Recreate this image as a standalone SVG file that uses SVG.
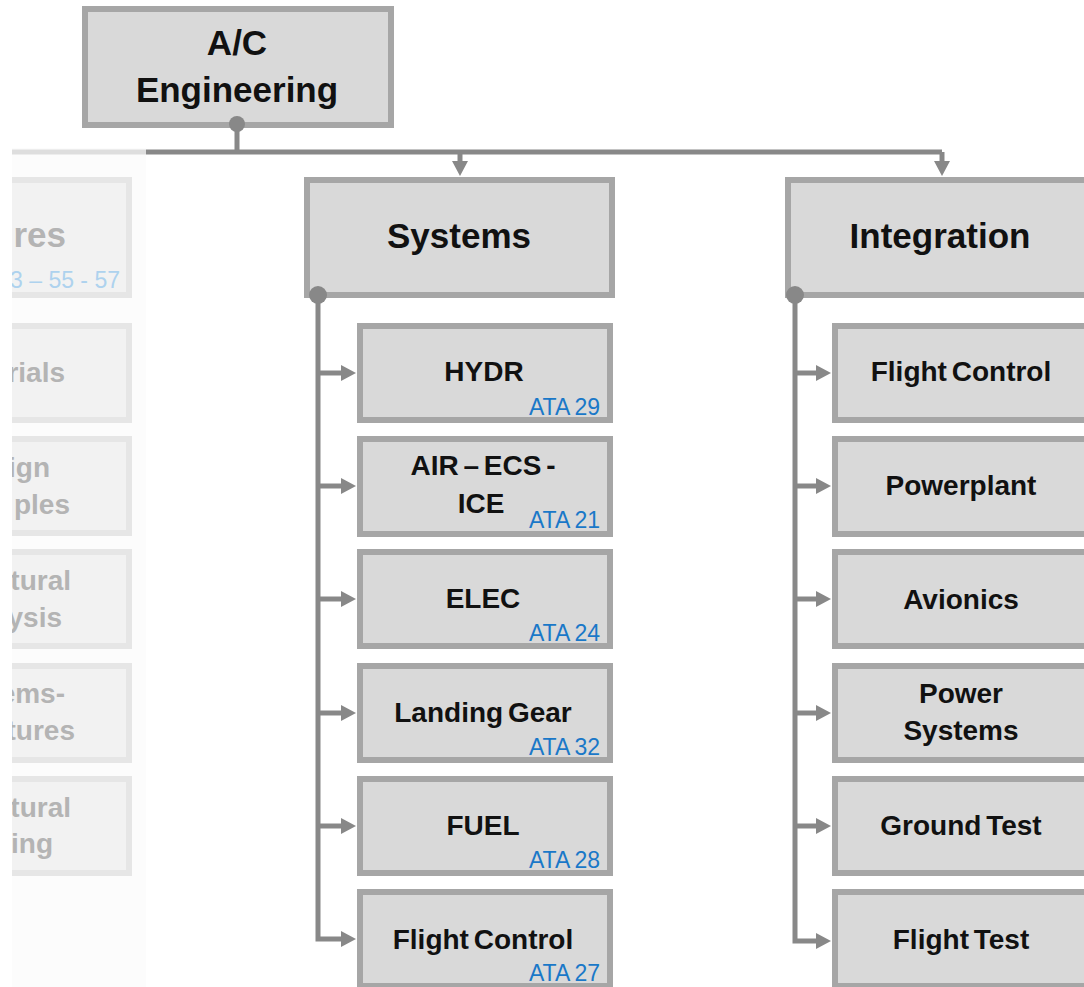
<svg xmlns="http://www.w3.org/2000/svg" width="1084" height="987" viewBox="0 0 1084 987">
  <defs>
    <style>
      .box { fill: #d9d9d9; stroke: #a6a6a6; stroke-width: 6; }
      .fbox { fill: #f2f2f2; stroke: #e6e6e6; stroke-width: 6; }
      .lbl { font-family: "Liberation Sans", Arial, sans-serif; font-weight: bold; fill: #111111; text-anchor: middle; }
      .title { font-size: 35px; }
      .item { font-size: 28px; word-spacing: -3px; }
      .ata { font-family: "Liberation Sans", Arial, sans-serif; font-size: 23px; fill: #1a78c8; text-anchor: end; word-spacing: -1px; }
      .flbl { font-family: "Liberation Sans", Arial, sans-serif; font-weight: bold; font-size: 28px; fill: #b4b4b4; text-anchor: end; }
      .fata { font-family: "Liberation Sans", Arial, sans-serif; font-size: 23px; fill: #aed2ee; text-anchor: end; }
      .wire { fill: none; stroke: #888888; stroke-width: 5; }
      .dot { fill: #888888; }
    </style>
    <marker id="arrow" markerUnits="userSpaceOnUse" markerWidth="16" markerHeight="18" refX="1" refY="8" orient="auto">
      <path d="M0,0 L15,8 L0,16 z" fill="#888888"/>
    </marker>
    <clipPath id="leftClip">
      <rect x="12" y="0" width="134" height="987"/>
    </clipPath>
  </defs>

  <rect width="1084" height="987" fill="#ffffff"/>

  <!-- faded Structures column, cut at the left edge -->
  <g id="structures" clip-path="url(#leftClip)">
    <rect x="12" y="148" width="134" height="839" fill="#fcfcfc"/>
    <line x1="12" y1="152" x2="146" y2="152" stroke="#dedede" stroke-width="5"/>
    <rect class="fbox" x="-150" y="180" width="279" height="115"/>
    <text class="flbl" x="66" y="247" style="font-size:35px">res</text>
    <text class="fata" x="120" y="288">3 – 55 - 57</text>

    <rect class="fbox" x="-150" y="326" width="279" height="94"/>
    <text class="flbl" x="65" y="382">rials</text>

    <rect class="fbox" x="-150" y="439" width="279" height="94"/>
    <text class="flbl" x="50" y="477">ign</text>
    <text class="flbl" x="70" y="514">ples</text>

    <rect class="fbox" x="-150" y="552" width="279" height="94"/>
    <text class="flbl" x="71" y="590">tural</text>
    <text class="flbl" x="62" y="627">ysis</text>

    <rect class="fbox" x="-150" y="666" width="279" height="94"/>
    <text class="flbl" x="65" y="703">ems-</text>
    <text class="flbl" x="75" y="740">tures</text>

    <rect class="fbox" x="-150" y="779" width="279" height="94"/>
    <text class="flbl" x="71" y="817">tural</text>
    <text class="flbl" x="53" y="853">ing</text>
  </g>

  <!-- connectors -->
  <g id="connectors">
    <path class="wire" d="M237,124 V152 M146,152 H942"/>
    <path class="wire" d="M460,152 V162" marker-end="url(#arrow)"/>
    <path class="wire" d="M942,152 V162" marker-end="url(#arrow)"/>

    <path class="wire" d="M318,295 V939 H342" marker-end="url(#arrow)"/>
    <path class="wire" d="M318,373 H342" marker-end="url(#arrow)"/>
    <path class="wire" d="M318,486 H342" marker-end="url(#arrow)"/>
    <path class="wire" d="M318,599 H342" marker-end="url(#arrow)"/>
    <path class="wire" d="M318,713 H342" marker-end="url(#arrow)"/>
    <path class="wire" d="M318,826 H342" marker-end="url(#arrow)"/>

    <path class="wire" d="M795,295 V941 H817" marker-end="url(#arrow)"/>
    <path class="wire" d="M795,373 H817" marker-end="url(#arrow)"/>
    <path class="wire" d="M795,486 H817" marker-end="url(#arrow)"/>
    <path class="wire" d="M795,599 H817" marker-end="url(#arrow)"/>
    <path class="wire" d="M795,713 H817" marker-end="url(#arrow)"/>
    <path class="wire" d="M795,826 H817" marker-end="url(#arrow)"/>
  </g>

  <!-- root -->
  <g id="ac-engineering">
    <rect class="box" x="85" y="9" width="306" height="116"/>
    <text class="lbl title" x="237" y="55">A/C</text>
    <text class="lbl title" x="237" y="102">Engineering</text>
    <circle class="dot" cx="237" cy="124" r="8"/>
  </g>

  <!-- Systems branch -->
  <g id="systems">
    <rect class="box" x="307" y="180" width="305" height="115"/>
    <text class="lbl title" x="459" y="248">Systems</text>
    <circle class="dot" cx="318" cy="295" r="9"/>
  </g>
  <g id="sys-hydr">
    <rect class="box" x="360" y="326" width="250" height="94"/>
    <text class="lbl item" x="484" y="381">HYDR</text>
    <text class="ata" x="600" y="415">ATA 29</text>
  </g>
  <g id="sys-air">
    <rect class="box" x="360" y="439" width="250" height="95"/>
    <text class="lbl item" x="483" y="475">AIR – ECS -</text>
    <text class="lbl item" x="481" y="513">ICE</text>
    <text class="ata" x="600" y="528">ATA 21</text>
  </g>
  <g id="sys-elec">
    <rect class="box" x="360" y="552" width="250" height="94"/>
    <text class="lbl item" x="483" y="608">ELEC</text>
    <text class="ata" x="600" y="641">ATA 24</text>
  </g>
  <g id="sys-landing-gear">
    <rect class="box" x="360" y="666" width="250" height="94"/>
    <text class="lbl item" x="483" y="722">Landing Gear</text>
    <text class="ata" x="600" y="755">ATA 32</text>
  </g>
  <g id="sys-fuel">
    <rect class="box" x="360" y="779" width="250" height="94"/>
    <text class="lbl item" x="483" y="835">FUEL</text>
    <text class="ata" x="600" y="868">ATA 28</text>
  </g>
  <g id="sys-flight-control">
    <rect class="box" x="360" y="892" width="250" height="94"/>
    <text class="lbl item" x="483" y="949">Flight Control</text>
    <text class="ata" x="600" y="981">ATA 27</text>
  </g>

  <!-- Integration branch -->
  <g id="integration">
    <rect class="box" x="788" y="180" width="304" height="115"/>
    <text class="lbl title" x="940" y="248">Integration</text>
    <circle class="dot" cx="795" cy="295" r="9"/>
  </g>
  <g id="int-flight-control">
    <rect class="box" x="835" y="326" width="252" height="94"/>
    <text class="lbl item" x="961" y="381">Flight Control</text>
  </g>
  <g id="int-powerplant">
    <rect class="box" x="835" y="439" width="252" height="95"/>
    <text class="lbl item" x="961" y="495">Powerplant</text>
  </g>
  <g id="int-avionics">
    <rect class="box" x="835" y="552" width="252" height="94"/>
    <text class="lbl item" x="961" y="609">Avionics</text>
  </g>
  <g id="int-power-systems">
    <rect class="box" x="835" y="666" width="252" height="94"/>
    <text class="lbl item" x="961" y="703">Power</text>
    <text class="lbl item" x="961" y="740">Systems</text>
  </g>
  <g id="int-ground-test">
    <rect class="box" x="835" y="779" width="252" height="94"/>
    <text class="lbl item" x="961" y="835">Ground Test</text>
  </g>
  <g id="int-flight-test">
    <rect class="box" x="835" y="892" width="252" height="94"/>
    <text class="lbl item" x="961" y="949">Flight Test</text>
  </g>
</svg>
